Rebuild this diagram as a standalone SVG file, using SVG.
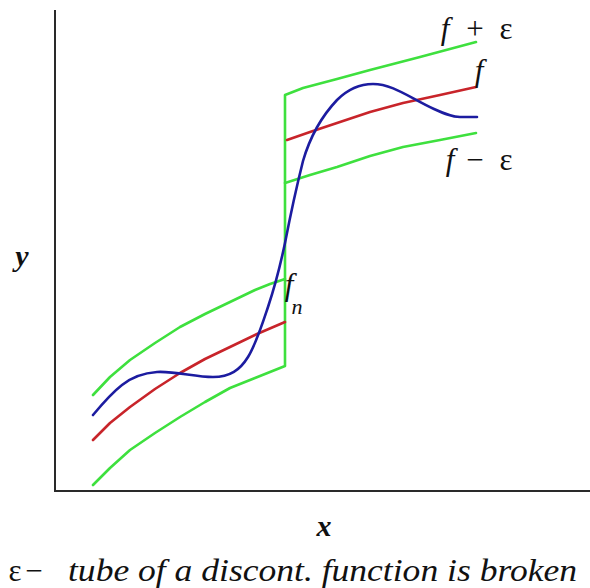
<svg xmlns="http://www.w3.org/2000/svg" width="590" height="588" viewBox="0 0 590 588">
<style>
.ax{fill:none;stroke:#2a2a2a;stroke-width:2}
.g{fill:none;stroke:#3ee03e;stroke-width:2.6;stroke-linejoin:round;stroke-linecap:round}
.r{fill:none;stroke:#c8242a;stroke-width:2.6;stroke-linejoin:round;stroke-linecap:round}
.b{fill:none;stroke:#1c1ca0;stroke-width:2.6;stroke-linejoin:round;stroke-linecap:round}
.it{font-style:italic}
.bi{font-style:italic;font-weight:bold}
</style>
<rect width="590" height="588" fill="#ffffff"/>
<g id="axes">
<line class="ax" x1="55" y1="10" x2="55" y2="491"/>
<line class="ax" x1="54" y1="491" x2="590" y2="491"/>
</g>
<g id="tube">
<polyline class="g" points="93,395 110,377 130,360 155,343 180,327 205,314 230,302 255,290 270,284 285,279"/>
<polyline class="g" points="93,485 110,468 130,450 155,433 180,417 205,402 230,388 255,378 285,366 285,95 303,88 337,79 370,70 420,57 476,42"/>
<polyline class="g" points="285,183 310,175 337,167 370,156 403,147 440,140 476,133"/>
</g>
<g id="f">
<polyline class="r" points="93,440 110,423 130,407 155,389 180,373 205,359 230,347 257,334 285,322"/>
<polyline class="r" points="287,140 310,132 337,123 370,112 403,103 440,95 476,87"/>
</g>
<g id="fn">
<path class="b" d="M93,415 C103,403 113,392 122,385 C132,377 143,373 157,372 C175,371 195,377 213,377 C230,377 240,370 248,357 C256,344 262,325 268,307 C275,286 281,262 285,243 C291,212 297,185 303,161 C310,137 320,118 337,100 C349,88 362,84 373,84 C393,84 410,98 434,109 C445,114 452,117 460,117 L477,117"/>
</g>
<g id="labels" font-family="Liberation Serif, Times New Roman, serif" fill="#111">
<text class="it" x="445" y="39" font-size="31" text-anchor="middle">f</text>
<text x="475" y="39" font-size="31" text-anchor="middle">+</text>
<text x="506" y="39" font-size="31" text-anchor="middle">ε</text>
<text class="it" x="479" y="81" font-size="31" text-anchor="middle">f</text>
<text class="it" x="450" y="170" font-size="31" text-anchor="middle">f</text>
<text x="475" y="170" font-size="31" text-anchor="middle">−</text>
<text x="506" y="170" font-size="31" text-anchor="middle">ε</text>
<text class="it" x="289" y="295" font-size="31" text-anchor="middle">f</text>
<text class="it" x="297" y="314" font-size="22" text-anchor="middle">n</text>
<text class="bi" x="22" y="266" font-size="30" text-anchor="middle">y</text>
<text class="bi" x="324" y="536" font-size="30" text-anchor="middle">x</text>
<text x="15" y="581" font-size="31" text-anchor="middle">ε</text>
<text x="34" y="581" font-size="31" text-anchor="middle">−</text>
<text class="it" x="68" y="581" font-size="32" textLength="509" lengthAdjust="spacingAndGlyphs">tube of a discont. function is broken</text>
</g>
</svg>
